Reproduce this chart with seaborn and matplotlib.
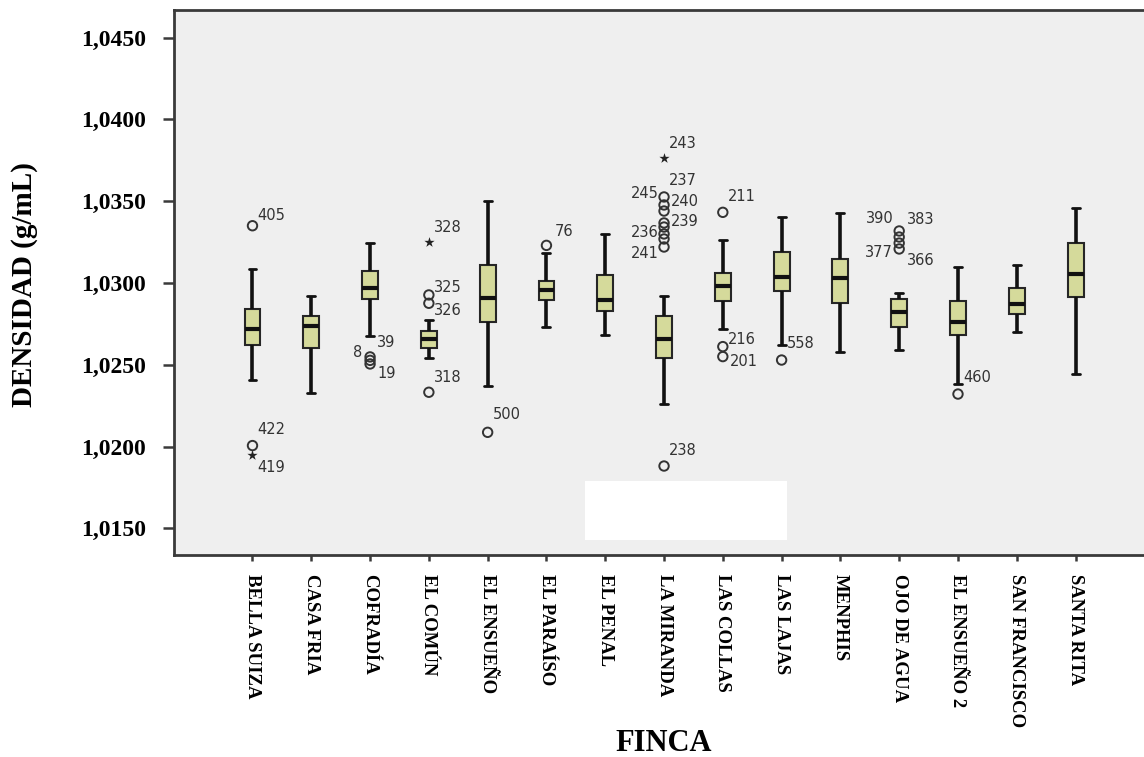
import matplotlib
matplotlib.use("Agg")
import matplotlib.pyplot as plt
from matplotlib.ticker import FixedLocator, FuncFormatter
from matplotlib.patches import Rectangle
import numpy as np
import pandas as pd
import seaborn as sns

# ---- data -------------------------------------------------------------
fincas = ["BELLA SUIZA", "CASA FRIA", "COFRADÍA", "EL COMÚN", "EL ENSUEÑO",
          "EL PARAÍSO", "EL PENAL", "LA MIRANDA", "LAS COLLAS", "LAS LAJAS",
          "MENPHIS", "OJO DE AGUA", "EL ENSUEÑO 2", "SAN FRANCISCO", "SANTA RITA"]

whisker_low = [1.02407, 1.02326, 1.02678, 1.02543, 1.02372, 1.02729, 1.02680, 1.02259,
               1.02719, 1.02621, 1.02580, 1.02590, 1.02383, 1.02699, 1.02442]
q1 = [1.02621, 1.02601, 1.02902, 1.02601, 1.02760, 1.02896, 1.02831, 1.02540,
      1.02890, 1.02951, 1.02876, 1.02733, 1.02682, 1.02809, 1.02913]
median = [1.02719, 1.02739, 1.02968, 1.02656, 1.02906, 1.02957, 1.02896, 1.02660,
          1.02984, 1.03039, 1.03029, 1.02821, 1.02763, 1.02872, 1.03053]
q3 = [1.02841, 1.02800, 1.03073, 1.02708, 1.03110, 1.03012, 1.03049, 1.02800,
      1.03059, 1.03188, 1.03147, 1.02902, 1.02892, 1.02971, 1.03243]
whisker_high = [1.03084, 1.02921, 1.03243, 1.02774, 1.03503, 1.03182, 1.03300, 1.02921,
                1.03263, 1.03402, 1.03426, 1.02941, 1.03100, 1.03110, 1.03457]

# outliers: finca, value, case id ("" = unlabelled)
circle_finca = ["BELLA SUIZA", "BELLA SUIZA",
                "COFRADÍA", "COFRADÍA", "COFRADÍA",
                "EL COMÚN", "EL COMÚN", "EL COMÚN",
                "EL ENSUEÑO", "EL PARAÍSO",
                "LA MIRANDA", "LA MIRANDA", "LA MIRANDA", "LA MIRANDA", "LA MIRANDA",
                "LA MIRANDA", "LA MIRANDA", "LA MIRANDA", "LA MIRANDA",
                "LAS COLLAS", "LAS COLLAS", "LAS COLLAS", "LAS LAJAS",
                "OJO DE AGUA", "OJO DE AGUA", "OJO DE AGUA", "OJO DE AGUA",
                "EL ENSUEÑO 2"]
circle_value = [1.03350, 1.02006,
                1.02548, 1.02527, 1.02505,
                1.02927, 1.02876, 1.02332,
                1.02087, 1.03230,
                1.03526, 1.03477, 1.03440, 1.03367, 1.03342,
                1.03300, 1.03269, 1.03220, 1.01881,
                1.03432, 1.02611, 1.02550, 1.02529,
                1.03318, 1.03281, 1.03244, 1.03208,
                1.02321]
circle_case = ["405", "422",
               "39", "8", "19",
               "325", "326", "318",
               "500", "76",
               "245", "240", "", "239", "",
               "236", "", "241", "238",
               "211", "216", "201", "558",
               "390", "383", "377", "366",
               "460"]

star_finca = ["BELLA SUIZA", "EL COMÚN", "LA MIRANDA"]
star_value = [1.01949, 1.03252, 1.03762]
star_case = ["419", "328", "243"]

# extra case label sharing the top LA MIRANDA circle
shared_finca = ["LA MIRANDA"]
shared_value = [1.03526]
shared_case = ["237"]

y_ticks = [1.015, 1.020, 1.025, 1.030, 1.035, 1.040, 1.045]

# label offsets in pixels (dx, dy, horizontal alignment)
label_offset = {
    "405": (5, 10, "left"), "422": (5, 16, "left"), "419": (5, -13, "left"),
    "39": (7, 14, "left"), "8": (-8, 8, "right"), "19": (7, -10, "left"),
    "328": (5, 14, "left"), "325": (5, 7, "left"), "326": (5, -7, "left"),
    "318": (5, 15, "left"), "500": (5, 18, "left"), "76": (8, 14, "left"),
    "243": (5, 15, "left"), "237": (5, 16, "left"), "245": (-5, 3, "right"),
    "240": (7, 3, "left"), "239": (7, 1, "left"), "236": (-5, 1, "right"),
    "241": (-5, -6, "right"), "238": (5, 16, "left"),
    "211": (5, 16, "left"), "216": (5, 7, "left"), "201": (7, -5, "left"),
    "558": (5, 17, "left"),
    "390": (-6, 12, "right"), "383": (8, 18, "left"),
    "377": (-6, -9, "right"), "366": (8, -12, "left"),
    "460": (5, 17, "left"),
}

# ---- long-form five-number summaries ---------------------------------
rows = []
for i, f in enumerate(fincas):
    for v in (whisker_low[i], q1[i], median[i], q3[i], whisker_high[i]):
        rows.append({"FINCA": f, "DENSIDAD": v})
df = pd.DataFrame(rows)

sns.set_style("white")
plt.rcParams["font.family"] = ["Liberation Serif", "DejaVu Serif"]
plt.rcParams["text.color"] = "black"
plt.rcParams["axes.labelcolor"] = "black"
plt.rcParams["xtick.color"] = "black"
plt.rcParams["ytick.color"] = "black"

fig = plt.figure(figsize=(11.44, 7.57), dpi=100)
ax = fig.add_axes([174 / 1144, 1 - 555 / 757, 970 / 1144, 545 / 757])
ax.set_facecolor("#efefef")

line_col = "#262626"
sns.boxplot(data=df, x="FINCA", y="DENSIDAD", order=fincas, whis=(0, 100),
            showfliers=False, width=0.27, color="#d5da9b", saturation=1,
            linecolor=line_col, linewidth=1.5, ax=ax,
            whiskerprops={"linewidth": 2.6, "color": "#111111"},
            capprops={"linewidth": 2.0, "color": "#111111"},
            medianprops={"linewidth": 3.0, "color": "#111111"})

pos = {f: i for i, f in enumerate(fincas)}
cx = [pos[f] for f in circle_finca]
ax.scatter(cx, circle_value, s=46, marker="o", facecolors="none",
           edgecolors="#333333", linewidths=1.4, zorder=5)
sx = [pos[f] for f in star_finca]
ax.scatter(sx, star_value, s=60, marker="*", color="#222222",
           linewidths=0, zorder=5)

label_font = dict(family="DejaVu Sans", fontsize=10.5, color="#333333")
for fl, vl, cl in ((circle_finca, circle_value, circle_case),
                   (star_finca, star_value, star_case),
                   (shared_finca, shared_value, shared_case)):
    for f, v, c in zip(fl, vl, cl):
        if not c:
            continue
        dx, dy, ha = label_offset[c]
        ax.annotate(c, (pos[f], v), xytext=(dx, dy), textcoords="offset pixels",
                    ha=ha, va="center", zorder=6, **label_font)

# white panel over the lower middle of the plotting area
ax.add_patch(Rectangle((0.4237, 0.0275), 0.2082, 0.108, transform=ax.transAxes,
                       facecolor="white", edgecolor="none", zorder=7))

ax.set_xlim(-1.335, 15.164)
ax.set_ylim(1.01337, 1.04669)
ax.yaxis.set_major_locator(FixedLocator(y_ticks))
ax.yaxis.set_major_formatter(FuncFormatter(lambda v, p: f"{v:.4f}".replace(".", ",")))

for side in ("left", "bottom", "top"):
    ax.spines[side].set_visible(True)
    ax.spines[side].set_color("#3a3a3a")
    ax.spines[side].set_linewidth(2.0)
ax.spines["right"].set_visible(False)

ax.tick_params(axis="y", which="major", left=True, length=8, width=1.8,
               color="#3a3a3a", labelcolor="black", pad=12, labelsize=17)
ax.tick_params(axis="x", which="major", bottom=True, length=4, width=1.8,
               color="#3a3a3a", labelcolor="black", pad=10, labelsize=13.5)
for t in ax.get_yticklabels():
    t.set_fontweight("bold")
for t in ax.get_xticklabels():
    t.set_fontweight("bold")
    t.set_rotation(-90)
    t.set_va("top")
    t.set_ha("center")

ax.set_xlabel("FINCA", fontsize=22, fontweight="bold", va="center", color="black")
ax.xaxis.set_label_coords(0.505, -0.345)
ax.set_ylabel("DENSIDAD (g/mL)", fontsize=21, fontweight="bold", va="center",
              color="black")
ax.yaxis.set_label_coords(-0.1546, 0.497)

fig.savefig("out.png", dpi=100, facecolor="white")
